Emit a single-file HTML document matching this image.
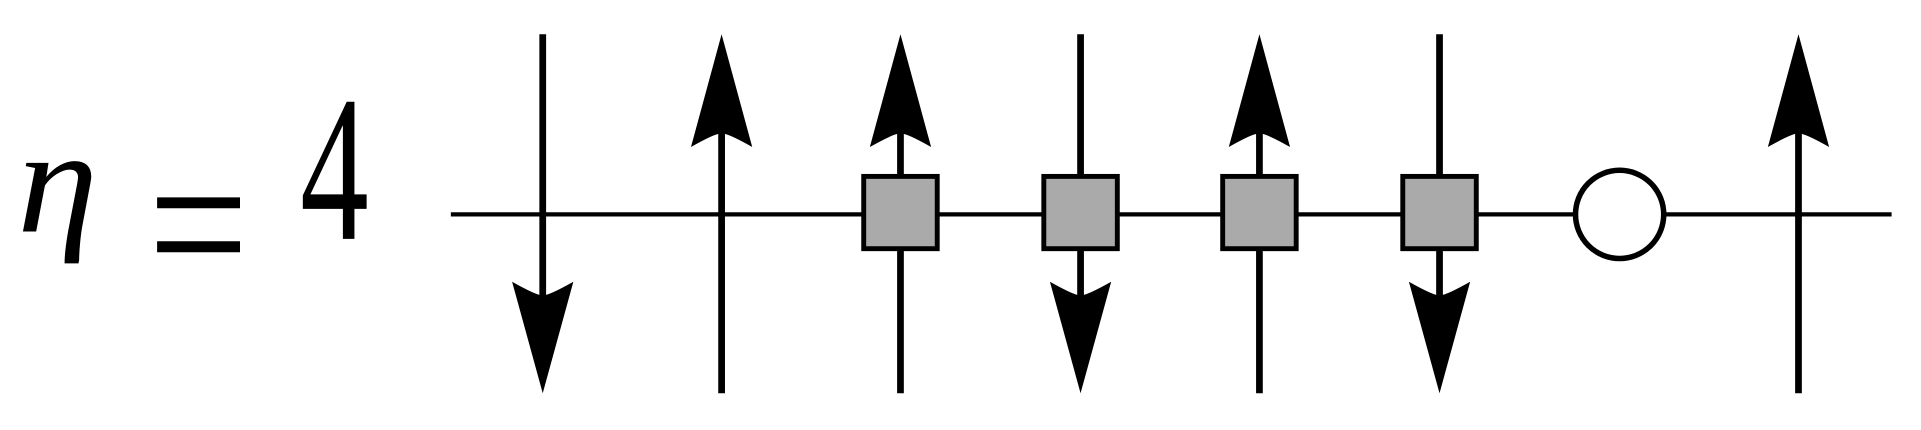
<!DOCTYPE html>
<html><head><meta charset="utf-8"><style>html,body{margin:0;padding:0;background:#fff;overflow:hidden}svg{display:block}</style></head>
<body>
<svg id="fig" width="1921" height="430" viewBox="0 0 1568 351" preserveAspectRatio="none" xmlns="http://www.w3.org/2000/svg">
<g style="font-family:'Liberation Serif',serif" fill="#000">
<text x="14" y="189" font-size="122" font-style="italic" textLength="66" lengthAdjust="spacingAndGlyphs">η</text>
<text transform="translate(121,243) scale(1,1.6)" x="0" y="0" font-size="112" textLength="82" lengthAdjust="spacingAndGlyphs">=</text>
<text x="245" y="195" font-size="170" textLength="56" lengthAdjust="spacingAndGlyphs">4</text>
</g>
<line x1="368" y1="175" x2="1544" y2="175" stroke="#000" stroke-width="3.5"/>
<g id="legs"></g>
<g id="nodes"></g>
</svg>
<script>
const legX = [443, 589, 735, 882, 1028, 1175, 1468];
const legDir = ["down", "up", "up", "down", "up", "down", "up"];
const squareX = [735, 882, 1028, 1175];
const circleX = [1322];
const NS = "http://www.w3.org/2000/svg";
const legs = document.getElementById("legs");
const nodes = document.getElementById("nodes");
legX.forEach((x, i) => {
  const up = legDir[i] === "up";
  const l = document.createElementNS(NS, "line");
  l.setAttribute("x1", x); l.setAttribute("x2", x);
  l.setAttribute("y1", up ? 60 : 28); l.setAttribute("y2", up ? 321 : 290);
  l.setAttribute("stroke", "#000"); l.setAttribute("stroke-width", "5.5");
  
  
  legs.appendChild(l);
  const p = document.createElementNS(NS, "path");
  let d;
  if (up) {
    d = `M${x},28 L${x+25},120 Q${x},106 ${x},110 Q${x},106 ${x-25},120 Z`;
  } else {
    d = `M${x},321 L${x+25},230 Q${x},244 ${x},240 Q${x},244 ${x-25},230 Z`;
  }
  p.setAttribute("d", d);
  p.setAttribute("fill", "#000");
  
  
  legs.appendChild(p);
});
squareX.forEach(x => {
  const r = document.createElementNS(NS, "rect");
  r.setAttribute("x", x - 30); r.setAttribute("y", 144);
  r.setAttribute("width", 60); r.setAttribute("height", 59);
  r.setAttribute("fill", "#aaaaaa"); r.setAttribute("stroke", "#000"); r.setAttribute("stroke-width", "4");
  
  
  nodes.appendChild(r);
});
circleX.forEach(x => {
  const c = document.createElementNS(NS, "circle");
  c.setAttribute("cx", x); c.setAttribute("cy", 175); c.setAttribute("r", 36);
  c.setAttribute("fill", "#fff"); c.setAttribute("stroke", "#000"); c.setAttribute("stroke-width", "4.5");
  
  
  nodes.appendChild(c);
});
</script>
</body></html>
